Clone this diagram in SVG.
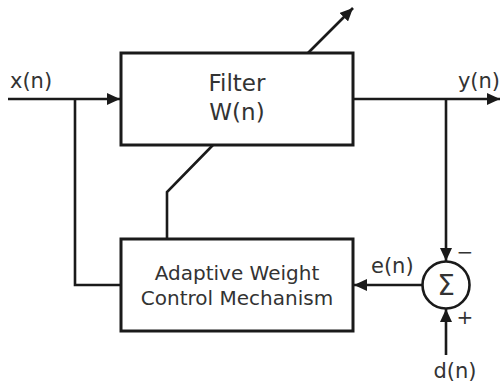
<svg xmlns="http://www.w3.org/2000/svg" width="502" height="386" viewBox="0 0 502 386">
<defs>
<marker id="arr" markerUnits="userSpaceOnUse" markerWidth="14" markerHeight="12" refX="13" refY="6" orient="auto">
<path d="M0,0 L13,6 L0,12 Z" fill="#1a1a1a"/>
</marker>
</defs>
<style>
.box{fill:#fff;stroke:#1a1a1a;stroke-width:3}
.ln{fill:none;stroke:#1a1a1a;stroke-width:2.6}
.t{font-family:"DejaVu Sans",sans-serif;fill:#333}
</style>
<rect width="502" height="386" fill="#fff"/>
<g id="connectors">
<path class="ln" d="M8,99 H120" marker-end="url(#arr)"/>
<path class="ln" d="M75,99 V285 H121"/>
<path class="ln" d="M353,99 H500" marker-end="url(#arr)"/>
<path class="ln" d="M446,99 V261" marker-end="url(#arr)"/>
<path class="ln" d="M446,355 V309" marker-end="url(#arr)"/>
<path class="ln" d="M422,285 H354" marker-end="url(#arr)"/>
<path class="ln" d="M167,239 V192 L213,145"/>
<path class="ln" d="M308,53 L353,8" marker-end="url(#arr)"/>
</g>
<g id="filter">
<rect class="box" x="121" y="53" width="232" height="92"/>
<text class="t" x="237" y="91" font-size="23" text-anchor="middle">Filter</text>
<text class="t" x="237" y="120" font-size="23" text-anchor="middle">W(n)</text>
</g>
<g id="adaptive">
<rect class="box" x="121" y="239" width="232" height="92"/>
<text class="t" x="237" y="280" font-size="20" text-anchor="middle">Adaptive Weight</text>
<text class="t" x="237" y="305" font-size="20" text-anchor="middle">Control Mechanism</text>
</g>
<g id="sum">
<circle cx="446" cy="285" r="23.5" fill="#fff" stroke="#1a1a1a" stroke-width="2.6"/>
<text class="t" x="446" y="295" font-size="28" text-anchor="middle">Σ</text>
<text class="t" x="465" y="259" font-size="20" text-anchor="middle">−</text>
<text class="t" x="465" y="324" font-size="20" text-anchor="middle">+</text>
</g>
<g id="labels">
<text class="t" x="10" y="88" font-size="21">x(n)</text>
<text class="t" x="500" y="88" font-size="21" text-anchor="end">y(n)</text>
<text class="t" x="371" y="273" font-size="21">e(n)</text>
<text class="t" x="455" y="378" font-size="21" text-anchor="middle">d(n)</text>
</g>
</svg>
